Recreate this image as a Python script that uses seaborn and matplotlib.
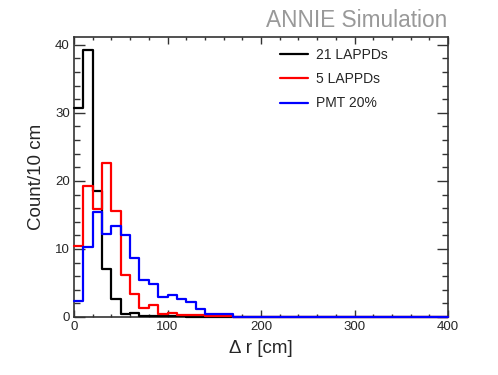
import numpy as np
import pandas as pd
import matplotlib
matplotlib.use('Agg')
import matplotlib.pyplot as plt
from matplotlib.ticker import MultipleLocator
import seaborn as sns

# bin edges: 10 cm bins from 0 to 400 cm
bin_edges = np.arange(0, 410, 10)
bin_centers = bin_edges[:-1] + 5

# counts (first bins, rest are zero)
counts_21_lappd = [30.7, 39.2, 18.5, 7.0, 2.6, 0.4, 0.65, 0.15, 0.1, 0.1,
                   0.1, 0.1, 0.05, 0.05, 0.05, 0.05, 0.05]
counts_5_lappd = [10.4, 19.2, 15.8, 22.7, 15.6, 6.2, 3.4, 1.3, 1.7, 0.45,
                  0.6, 0.35, 0.25, 0.25, 0.15, 0.15, 0.15]
counts_pmt = [2.4, 10.3, 15.5, 12.2, 13.3, 12.0, 8.6, 5.4, 4.8, 3.0,
              3.3, 2.6, 2.25, 1.2, 0.4, 0.4, 0.4]

labels = ['21 LAPPDs', '5 LAPPDs', 'PMT 20%']
colors = ['black', 'red', 'blue']


def pad(vals):
    return list(vals) + [0.0] * (len(bin_centers) - len(vals))


sns.set_style('ticks')
plt.rcParams['font.family'] = ['Liberation Sans', 'DejaVu Sans']

fig = plt.figure(figsize=(4.98, 3.75), dpi=100)
ax = fig.add_axes([0.1486, 0.1547, 0.751, 0.7458])

for counts, lab, col in zip([counts_21_lappd, counts_5_lappd, counts_pmt], labels, colors):
    df = pd.DataFrame({'dr': bin_centers, 'w': pad(counts)})
    sns.histplot(data=df, x='dr', weights='w', binwidth=10, binrange=(0, 400),
                 element='step', fill=False, color=col, linewidth=1.6,
                 label=lab, ax=ax, zorder=3, clip_on=False)

ax.set_xlim(0, 400)
ax.set_ylim(0, 41.1)
ax.xaxis.set_major_locator(MultipleLocator(100))
ax.xaxis.set_minor_locator(MultipleLocator(20))
ax.yaxis.set_major_locator(MultipleLocator(10))
ax.yaxis.set_minor_locator(MultipleLocator(2))
ax.tick_params(axis='both', which='both', direction='in', top=True, right=True,
               labelsize=9.5, width=1.0, color='#333333')
ax.tick_params(axis='x', which='major', length=5, pad=3)
ax.tick_params(axis='x', which='minor', length=2.5)
ax.tick_params(axis='y', which='major', length=8, pad=3)
ax.tick_params(axis='y', which='minor', length=4)
for sp in ax.spines.values():
    sp.set_linewidth(1.2)
    sp.set_color('#333333')

ax.set_xlabel('Δ r [cm]', fontsize=13.5, labelpad=5)
ax.set_ylabel('Count/10 cm', fontsize=13.5, labelpad=7)

ax.legend(loc='upper left', bbox_to_anchor=(0.517, 1.008), frameon=False,
          fontsize=10, handlelength=2.0, handletextpad=0.6, labelspacing=0.75)

fig.text(0.898, 0.928, 'ANNIE Simulation', color='#999999', fontsize=16.3,
         ha='right', va='baseline')

fig.savefig('out.png', dpi=100)
